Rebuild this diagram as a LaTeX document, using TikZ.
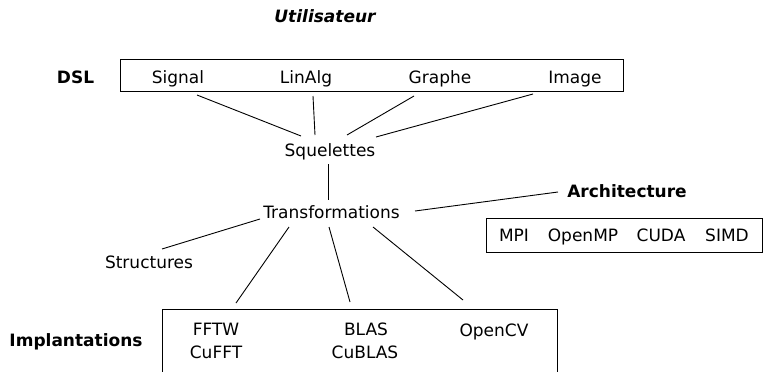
\documentclass[tikz,border=0pt]{standalone}
\usepackage{fontspec}
\setmainfont{DejaVu Sans}
\usetikzlibrary{calc}
\tikzset{
  lbl/.style={anchor=base,inner sep=0pt,font=\fontsize{17}{21}\selectfont},
  blbl/.style={lbl,font=\fontsize{17}{21}\selectfont\bfseries},
  frame/.style={draw,line width=1pt,inner sep=0pt},
  lnk/.style={line width=0.9pt},
}
\begin{document}
\begin{tikzpicture}[x=1pt,y=-1pt]
    \useasboundingbox (0,0) rectangle (763,372);
    % titres
    \node[blbl,font=\fontsize{17}{21}\selectfont\bfseries\itshape] (utl) at (325,22) {Utilisateur};
    \node[blbl] (dsl) at (75.5,83) {DSL};
    \node[blbl] (arc) at (627,197) {Architecture};
    \node[blbl] (imp) at (76,346) {Implantations};
    % cadres
    \node[frame,minimum width=503pt,minimum height=32pt] (dslbox) at (371.5,75) {};
    \node[frame,minimum width=276pt,minimum height=34pt] (arcbox) at (624,235) {};
    \node[frame,minimum width=395pt,minimum height=68pt] (impbox) at (359.5,343) {};
    % DSL
    \node[lbl] (sig) at (178,83) {Signal};
    \node[lbl] (lin) at (306,83) {LinAlg};
    \node[lbl] (gra) at (440,83) {Graphe};
    \node[lbl] (img) at (575,83) {Image};
    \node[lbl] (squ) at (330,156) {Squelettes};
    \node[lbl] (trf) at (331.5,218) {Transformations};
    \node[lbl] (str) at (149,268) {Structures};
    % architectures
    \node[lbl] (mpi) at (514,241) {MPI};
    \node[lbl] (omp) at (583,241) {OpenMP};
    \node[lbl] (cud) at (661,241) {CUDA};
    \node[lbl] (smd) at (727,241) {SIMD};
    % implantations
    \node[lbl] (fft) at (216,335) {FFTW};
    \node[lbl] (cuf) at (216,358) {CuFFT};
    \node[lbl] (bla) at (366,335) {BLAS};
    \node[lbl] (cub) at (365,358) {CuBLAS};
    \node[lbl] (ocv) at (494,336) {OpenCV};
    % liens
    \draw[lnk] ($(sig.base)+(19,12)$) -- ($(squ.base)+(-29,-20)$);
    \draw[lnk] ($(lin.base)+(7,13)$) -- ($(squ.base)+(-15,-21)$);
    \draw[lnk] ($(gra.base)+(-26,13)$) -- ($(squ.base)+(17,-21)$);
    \draw[lnk] ($(img.base)+(-42,11)$) -- ($(squ.base)+(46,-19)$);
    \draw[lnk] ($(squ.base)+(-2,8)$) -- ($(trf.base)+(-3.5,-18)$);
    \draw[lnk] ($(trf.base)+(83.5,-7)$) -- ($(arc.base)+(-69,-5)$);
    \draw[lnk] ($(trf.base)+(-71.5,1)$) -- ($(str.base)+(13,-19)$);
    \draw[lnk] ($(trf.base)+(-42.5,9)$) -- ($(fft.base)+(20,-32)$);
    \draw[lnk] ($(trf.base)+(-2.5,9)$) -- ($(bla.base)+(-16,-33)$);
    \draw[lnk] ($(trf.base)+(41.5,9)$) -- ($(ocv.base)+(-31,-36)$);
\end{tikzpicture}
\end{document}
